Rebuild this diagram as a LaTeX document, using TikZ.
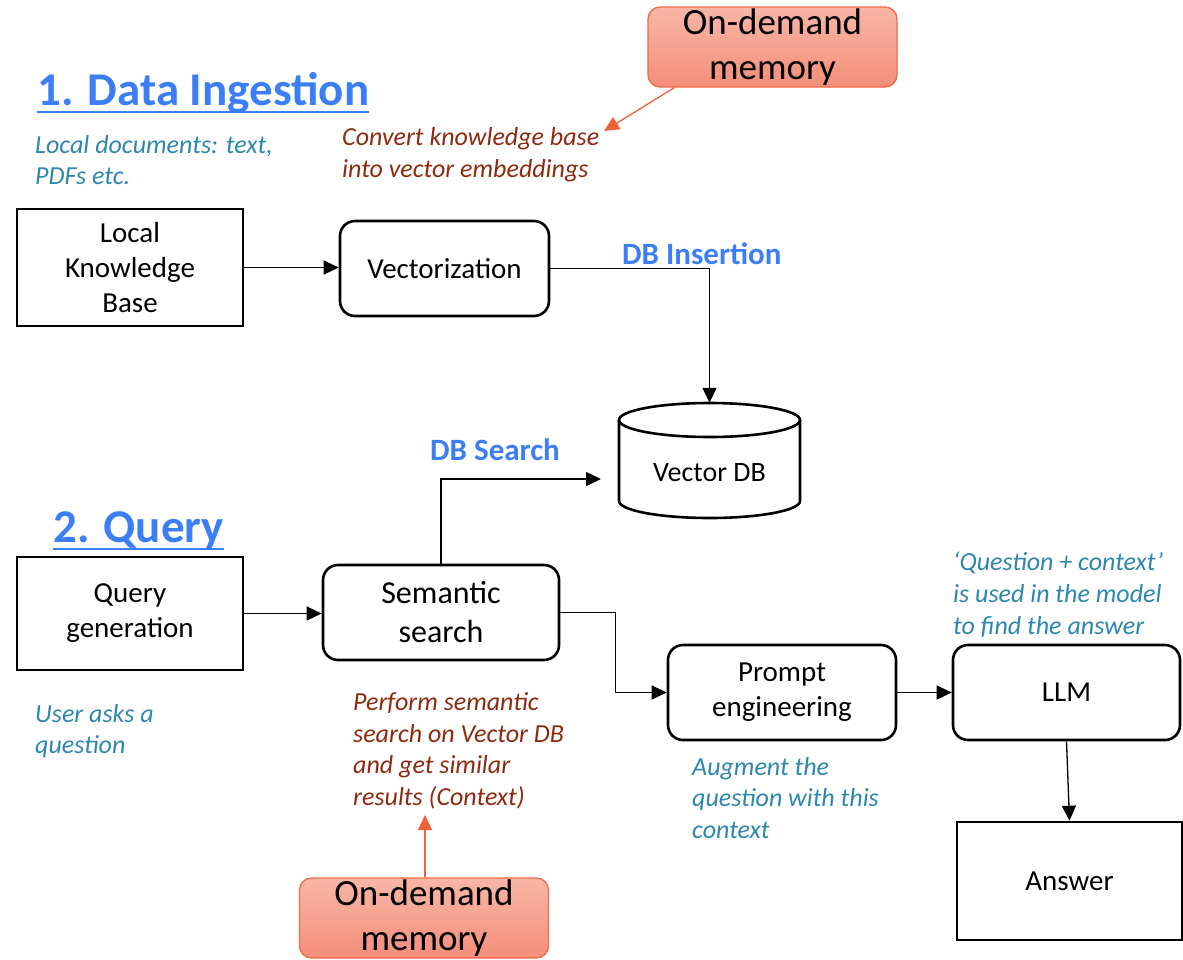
\documentclass[tikz,border=0pt]{standalone}
\usepackage{fontspec}
\setmainfont{Carlito}
\usetikzlibrary{arrows.meta,calc}
\definecolor{tblue}{HTML}{3B7EF7}
\definecolor{annteal}{HTML}{2E87AC}
\definecolor{annred}{HTML}{8C2B10}
\definecolor{odfillt}{HTML}{F9B6A7}
\definecolor{odfillb}{HTML}{F48E79}
\definecolor{odline}{HTML}{F06A45}
\definecolor{odarrowc}{HTML}{F0603A}
\begin{document}
\begin{tikzpicture}[x=1pt,y=-1pt,
  sbox/.style={draw, line width=2.6pt, align=center, inner sep=0pt,
    font=\fontsize{29}{35}\selectfont},
  rbox/.style={sbox, rounded corners=15pt},
  conn/.style={line width=1.3pt, -{Triangle[width=14pt,length=15pt]}},
  odarr/.style={line width=1.3pt, draw=odarrowc, -{Triangle[width=14pt,length=15pt]}},
  ann/.style={align=left, anchor=base west, inner sep=0pt,
    font=\fontsize{26}{31.7}\selectfont\itshape},
  annb/.style={ann, text=annteal},
  annr/.style={ann, text=annred},
  ttl/.style={anchor=base west, inner sep=0pt, text=tblue,
    font=\fontsize{47}{52}\selectfont\bfseries},
  lbl/.style={anchor=base west, inner sep=0pt, text=tblue,
    font=\fontsize{31}{35}\selectfont\bfseries},
  odbox/.style={draw=odline, line width=1.3pt, top color=odfillt,
    bottom color=odfillb, rounded corners=12pt, align=center, inner sep=0pt,
    minimum width=249pt, minimum height=80pt,
    font=\fontsize{37}{45}\selectfont}]
\useasboundingbox (0,0) rectangle (1183,959);
\fill[white] (0,0) rectangle (1183,959);

% ---------- Data ingestion ----------
\node[odbox] (od1) at (772.5,47) {On-demand\\memory};
\node[ttl] (t1) at (37,105) {1. Data Ingestion};
\draw[tblue, line width=2.6pt] ($(t1.base west)+(0,7)$) -- ($(t1.base east)+(0,7)$);
% multi-line annotations: anchor base = baseline of the last line
\node[annb] (a1) at (35,184.7) {Local documents: text,\\PDFs etc.};
\node[annr] (a2) at (342,177) {Convert knowledge base\\into vector embeddings};
\coordinate (a2tip) at (604,131);
\draw[odarr] ($(od1.south west)+(27,0)$) -- (a2tip);

\node[sbox, minimum width=226pt, minimum height=117pt] (lkb) at (130,267.5) {Local\\Knowledge\\Base};
\node[rbox, minimum width=209pt, minimum height=95pt] (vec) at (444.5,268.5) {Vectorization};
\draw[conn] (lkb.east) -- (lkb.east -| vec.west);
\node[lbl] (ins) at (622,264) {DB Insertion};

% Vector DB cylinder
\node[minimum width=181pt, minimum height=115pt, inner sep=0pt] (vdb) at (709.5,460.5) {};
\draw[line width=2.6pt] (709.5,420) ellipse [x radius=90.5, y radius=17];
\draw[line width=2.6pt] (619,420) -- (619,501)
  arc [start angle=180, end angle=0, x radius=90.5, y radius=17] -- (800,420);
\node[font=\fontsize{28}{34}\selectfont] (vdbt) at (709.5,473) {Vector DB};
\draw[conn] (vec.east) -| (vdb.north);

% ---------- Query ----------
\node[ttl] (t2) at (53,542) {2. Query};
\draw[tblue, line width=2.6pt] ($(t2.base west)+(0,7)$) -- ($(t2.base east)+(0,7)$);

\node[sbox, minimum width=226pt, minimum height=113pt] (qg) at (130,613.5) {Query\\generation};
\node[rbox, minimum width=236pt, minimum height=95pt, font=\fontsize{32}{39}\selectfont] (sem) at (441,612.5) {Semantic\\search};
\draw[conn] (qg.east) -- (qg.east -| sem.west);
\node[lbl] (srch) at (430,460) {DB Search};
\coordinate (vdbin) at (601,479);
\draw[conn] (sem.north) |- (vdbin);

\node[rbox, minimum width=228pt, minimum height=95pt] (pe) at (782,692.5) {Prompt\\engineering};
\draw[conn] (sem.east) -- ++(55,0) |- (pe.west);
\node[rbox, minimum width=227pt, minimum height=95pt] (llm) at (1066.5,692.5) {LLM};
\draw[conn] (pe.east) -- (llm.west);
\node[sbox, minimum width=225pt, minimum height=118pt] (ans) at (1069.5,881) {Answer};
\draw[conn] (llm.south) -- (ans.north);

\node[annb] (a3) at (953,634) {‘Question + context’\\is used in the model\\to find the answer};
\node[annb] (a4) at (35,753.7) {User asks a\\question};
\node[annr] (a5) at (353,805.5) {Perform semantic\\search on Vector DB\\and get similar\\results (Context)};
\node[annb] (a6) at (692,838.4) {Augment the\\question with this\\context};

\node[odbox] (od2) at (424,918) {On-demand\\memory};
\coordinate (pstip) at (425,815);
\draw[odarr] (od2.north -| pstip) -- (pstip);
\end{tikzpicture}
\end{document}
